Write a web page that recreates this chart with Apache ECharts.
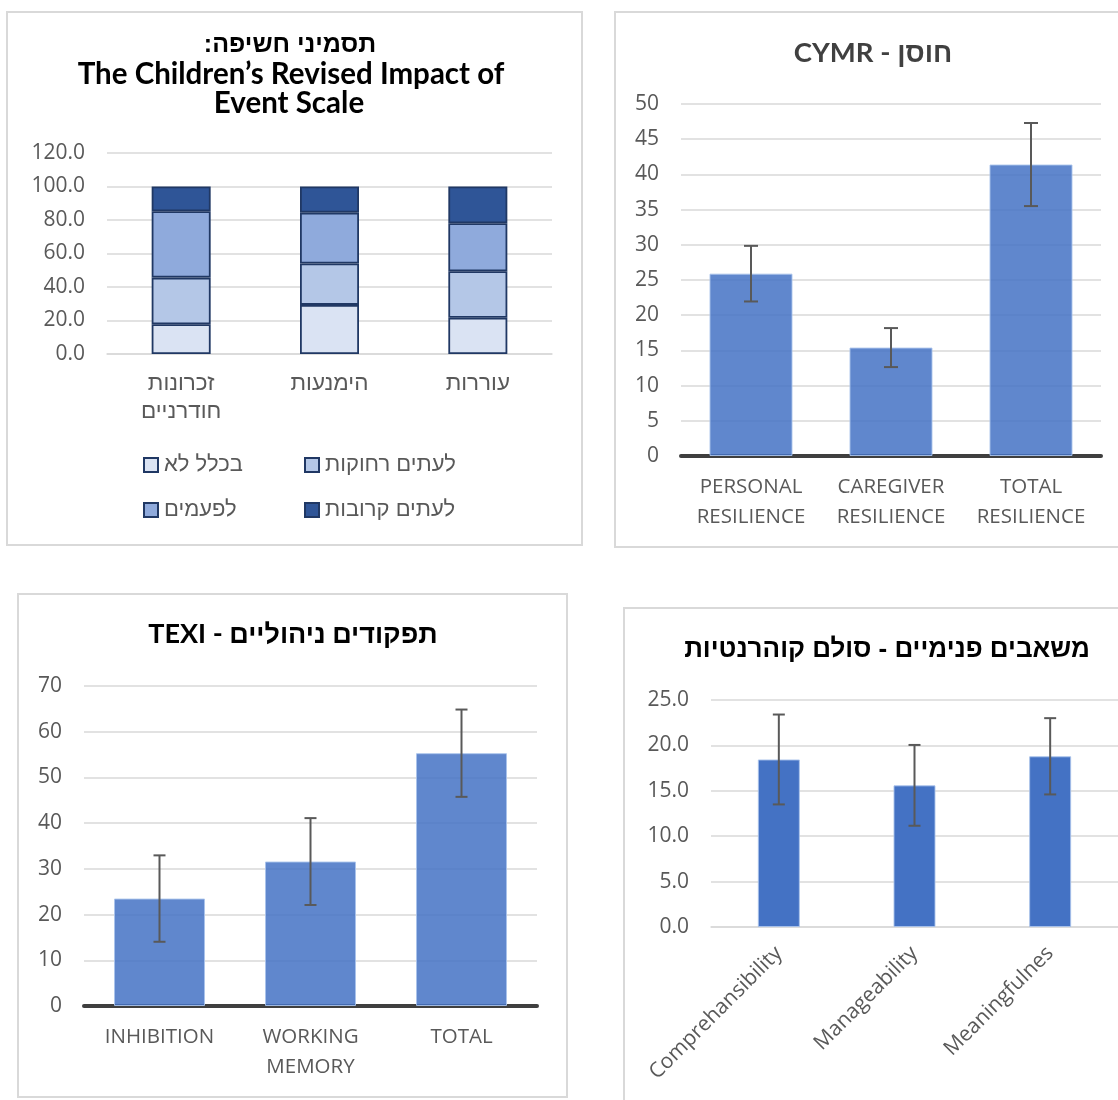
<!DOCTYPE html>
<html>
<head>
<meta charset="utf-8">
<script src="https://cdn.jsdelivr.net/npm/echarts@6/dist/echarts.min.js"></script>
<style>
  html, body { margin: 0; padding: 0; background: #ffffff; }
  #chart { width: 1118px; height: 1100px; }
</style>
</head>
<body>
<div id="chart"></div>
<script>
// ---- Children's Revised Impact of Event Scale (percent of responses) ----
const iesCategories = ['זכרונות\nחודרניים', 'הימנעות', 'עוררות'];
const iesSeriesNames = ['בכלל לא', 'לעתים רחוקות', 'לפעמים', 'לעתים קרובות'];
const iesNever = [17.8, 29.3, 21.6];
const iesRarely = [27.8, 24.7, 27.8];
const iesSometimes = [39.6, 30.4, 28.7];
const iesOften = [14.8, 15.6, 21.9];
const iesAxis = { min: 0, max: 120, interval: 20 };

// ---- CYMR resilience (mean, SD) ----
const cymrCategories = ['PERSONAL\nRESILIENCE', 'CAREGIVER\nRESILIENCE', 'TOTAL\nRESILIENCE'];
const cymrMeans = [25.9, 15.4, 41.4];
const cymrSD = [3.95, 2.77, 5.9];
const cymrAxis = { min: 0, max: 50, interval: 5 };

// ---- TEXI executive functions (mean, SD) ----
const texiCategories = ['INHIBITION', 'WORKING\nMEMORY', 'TOTAL'];
const texiMeans = [23.5, 31.6, 55.3];
const texiSD = [9.45, 9.5, 9.55];
const texiAxis = { min: 0, max: 70, interval: 10 };

// ---- Sense of coherence (mean, SD) ----
const socCategories = ['Comprehansibility', 'Manageability', 'Meaningfulnes'];
const socMeans = [18.45, 15.6, 18.8];
const socSD = [4.95, 4.45, 4.2];
const socAxis = { min: 0, max: 25, interval: 5 };

const LABEL_FONT = "'Open Sans', 'Liberation Sans', 'DejaVu Sans', sans-serif";
const TITLE_FONT = "'Lato', 'Liberation Sans', 'DejaVu Sans', sans-serif";
const HEB_FONT = "'Liberation Sans', 'DejaVu Sans', sans-serif";
const GRID_COLOR = '#d9d9d9';
const LABEL_COLOR = '#595959';
const IES_COLORS = ['#dae3f3', '#b4c7e7', '#8faadc', '#2f5597'];

const chart = echarts.init(document.getElementById('chart'), null, { renderer: 'canvas' });

function valueAxis(gridIndex, ax, decimals) {
  return {
    type: 'value', gridIndex: gridIndex,
    min: ax.min, max: ax.max, interval: ax.interval,
    axisLine: { show: false }, axisTick: { show: false },
    splitLine: { lineStyle: { color: GRID_COLOR, width: 1.5 } },
    axisLabel: {
      margin: 22, color: LABEL_COLOR, fontSize: 21, fontFamily: LABEL_FONT,
      formatter: v => v.toFixed(decimals)
    }
  };
}

function categoryAxis(gridIndex, cats, lineStyle, labelExtra) {
  return {
    type: 'category', gridIndex: gridIndex, data: cats,
    axisTick: { show: false },
    axisLine: { show: true, lineStyle: lineStyle },
    axisLabel: Object.assign({
      color: LABEL_COLOR, fontSize: 20.5, fontFamily: LABEL_FONT,
      lineHeight: 30, margin: 16, interval: 0
    }, labelExtra || {})
  };
}

// whiskers drawn as mean ± SD through the axis scales
function errorBars(axisIndex, means, sds, cap) {
  return {
    type: 'custom', xAxisIndex: axisIndex, yAxisIndex: axisIndex, z: 10, silent: true,
    encode: { x: 0, y: [1, 2] },
    data: means.map((m, i) => [i, m - sds[i], m + sds[i]]),
    renderItem: function (params, api) {
      const lo = api.coord([api.value(0), api.value(1)]);
      const hi = api.coord([api.value(0), api.value(2)]);
      const st = { stroke: '#595959', lineWidth: 2 };
      return {
        type: 'group', children: [
          { type: 'line', shape: { x1: hi[0], y1: hi[1], x2: lo[0], y2: lo[1] }, style: st },
          { type: 'line', shape: { x1: hi[0] - cap, y1: hi[1], x2: hi[0] + cap, y2: hi[1] }, style: st },
          { type: 'line', shape: { x1: lo[0] - cap, y1: lo[1], x2: lo[0] + cap, y2: lo[1] }, style: st }
        ]
      };
    }
  };
}

const iesData = [iesNever, iesRarely, iesSometimes, iesOften];
const iesSeries = iesSeriesNames.map((name, k) => ({
  name: name, type: 'bar', stack: 'ies', xAxisIndex: 0, yAxisIndex: 0,
  barWidth: 59, data: iesData[k],
  itemStyle: { color: IES_COLORS[k], borderColor: '#203864', borderWidth: 1.8 }
}));

const legendSlots = [[143, 454], [304, 454], [143, 499], [304, 499]];
const legends = iesSeriesNames.map((name, k) => ({
  data: [name], left: legendSlots[k][0], top: legendSlots[k][1], padding: 0,
  icon: 'rect', itemWidth: 14, itemHeight: 14, itemGap: 6,
  textStyle: { color: LABEL_COLOR, fontSize: 22, fontFamily: HEB_FONT, padding: [0, 0, 0, 1] },
  selectedMode: false
}));

const translucentBar = {
  color: 'rgba(68,114,196,0.85)', borderColor: 'rgba(170,195,235,0.9)', borderWidth: 1
};

function panelRect(x, y, w, h) {
  return { type: 'rect', silent: true, z: -1,
    shape: { x: x, y: y, width: w, height: h },
    style: { fill: null, stroke: GRID_COLOR, lineWidth: 2 } };
}
function titleText(x, y, text, color, size, font) {
  return { type: 'text', silent: true, x: x, y: y,
    style: { text: text, fill: color, font: 'bold ' + size + 'px ' + font,
      align: 'center', verticalAlign: 'middle' } };
}

const option = {
  animation: false,
  backgroundColor: '#ffffff',
  legend: legends,
  grid: [
    { left: 107, top: 153, width: 445, height: 201 },
    { left: 681, top: 104, width: 420, height: 352 },
    { left: 84, top: 686, width: 453, height: 320 },
    { left: 711, top: 700, width: 408, height: 227 }
  ],
  xAxis: [
    categoryAxis(0, iesCategories, { color: GRID_COLOR, width: 1.5 },
      { fontFamily: HEB_FONT, fontSize: 22.5, lineHeight: 28 }),
    categoryAxis(1, cymrCategories, { color: '#3f3f3f', width: 4 }),
    categoryAxis(2, texiCategories, { color: '#3f3f3f', width: 4 }),
    categoryAxis(3, socCategories, { color: GRID_COLOR, width: 1.5 },
      { rotate: 45, margin: 23, fontSize: 21 })
  ],
  yAxis: [
    valueAxis(0, iesAxis, 1),
    valueAxis(1, cymrAxis, 0),
    valueAxis(2, texiAxis, 0),
    valueAxis(3, socAxis, 1)
  ],
  series: iesSeries.concat([
    { type: 'bar', xAxisIndex: 1, yAxisIndex: 1, barWidth: 83, data: cymrMeans, itemStyle: translucentBar },
    errorBars(1, cymrMeans, cymrSD, 7),
    { type: 'bar', xAxisIndex: 2, yAxisIndex: 2, barWidth: 91, data: texiMeans, itemStyle: translucentBar },
    errorBars(2, texiMeans, texiSD, 6),
    { type: 'bar', xAxisIndex: 3, yAxisIndex: 3, barWidth: 42, data: socMeans,
      itemStyle: { color: '#4472c4', borderColor: 'rgba(170,195,235,0.9)', borderWidth: 1 } },
    errorBars(3, socMeans, socSD, 6)
  ]),
  graphic: [
    panelRect(7, 12, 575, 533),
    panelRect(615, 12, 520, 535),
    panelRect(18, 594, 549, 503),
    panelRect(624, 608, 520, 520),
    titleText(290, 45, 'תסמיני חשיפה:\u200F', '#000000', 25, HEB_FONT),
    titleText(291, 74, 'The Children\u2019s Revised Impact of', '#000000', 29.5, TITLE_FONT),
    titleText(289, 103, 'Event Scale', '#000000', 29.5, TITLE_FONT),
    titleText(873, 53, 'CYMR - חוסן', '#404040', 27.5, TITLE_FONT),
    titleText(293, 634, 'TEXI - תפקודים ניהוליים', '#000000', 27, TITLE_FONT),
    titleText(887, 650, 'משאבים פנימיים - סולם קוהרנטיות', '#000000', 26, HEB_FONT)
  ]
};

chart.setOption(option);
</script>
</body>
</html>
